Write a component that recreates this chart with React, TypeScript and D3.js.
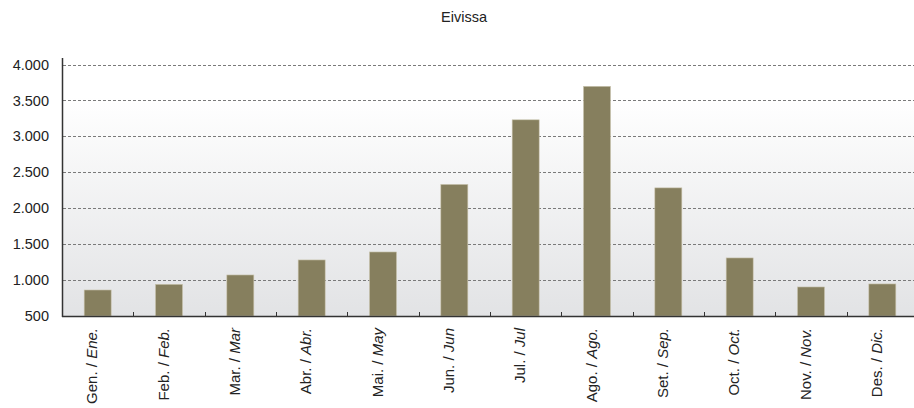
import React from "react";
import * as d3 from "d3";

const title = "Eivissa";
const monthsCa = ["Gen.", "Feb.", "Mar.", "Abr.", "Mai.", "Jun.", "Jul.", "Ago.", "Set.", "Oct.", "Nov.", "Des."];
const monthsEs = ["Ene.", "Feb.", "Mar", "Abr.", "May", "Jun", "Jul", "Ago.", "Sep.", "Oct.", "Nov.", "Dic."];
const values = [862, 941, 1071, 1280, 1391, 2331, 3230, 3696, 2283, 1308, 904, 946];
const yTicks = [500, 1000, 1500, 2000, 2500, 3000, 3500, 4000];

const W = 914;
const H = 408;
const left = 62;
const right = 918;
const top = 58;
const bottom = 316;

export default function App() {
  const x = d3.scaleBand<number>().domain(d3.range(12)).range([left, right]).paddingInner(0).paddingOuter(0);
  const y = d3.scaleLinear().domain([500, 4000]).range([bottom, 64.5]);
  const fmt = (v: number) => d3.format(",")(v).replace(/,/g, ".");
  const barW = 27;
  const font = "'Liberation Sans', Arial, Helvetica, sans-serif";

  return (
    <svg width={W} height={H} style={{ position: "absolute", left: 0, top: 0 }} fontFamily={font}>
      <defs>
        <linearGradient id="bg" x1="0" y1="0" x2="0" y2="1">
          <stop offset="0" stopColor="#ffffff" />
          <stop offset="0.15" stopColor="#ffffff" />
          <stop offset="1" stopColor="#e2e3e5" />
        </linearGradient>
      </defs>
      <rect x={0} y={0} width={W} height={H} fill="#fff" />
      <text x={464} y={22} textAnchor="middle" fontSize={14.5} fill="#222">{title}</text>
      <rect x={left} y={top} width={right - left} height={bottom - top} fill="url(#bg)" />
      {yTicks.filter((t) => t > 500).map((t) => (
        <line key={t} x1={left + 1} x2={W} y1={Math.round(y(t)) + 0.5} y2={Math.round(y(t)) + 0.5}
          stroke="#7a7a7a" strokeWidth={1} strokeDasharray="3,2" />
      ))}
      {yTicks.map((t) => (
        <text key={t} x={49} y={y(t)} dy="0.35em" textAnchor="end" fontSize={14.5} fill="#222">{fmt(t)}</text>
      ))}
      {values.map((v, i) => {
        const cx = (x(i) as number) + x.bandwidth() / 2;
        return (
          <rect key={i} x={cx - barW / 2} y={y(v)} width={barW} height={bottom - y(v)}
            fill="#867f5e" stroke="#c9c4ad" strokeWidth={0.6} />
        );
      })}
      {d3.range(1, 12).map((i) => {
        const xx = Math.round(x(i) as number) + 0.5;
        return <line key={i} x1={xx} x2={xx} y1={bottom} y2={bottom - 4} stroke="#333" strokeWidth={1} />;
      })}
      <line x1={left} x2={W} y1={bottom + 0.5} y2={bottom + 0.5} stroke="#333" strokeWidth={1.5} />
      <line x1={left + 0.5} x2={left + 0.5} y1={top} y2={bottom + 1} stroke="#333" strokeWidth={1.5} />
      {values.map((_, i) => {
        const cx = (x(i) as number) + x.bandwidth() / 2 - 5.5;
        return (
          <text key={i} transform={`translate(${cx},328) rotate(-90)`} textAnchor="end" dy="0.35em" fontSize={15} fill="#222">
            {monthsCa[i]} / <tspan fontStyle="italic">{monthsEs[i]}</tspan>
          </text>
        );
      })}
    </svg>
  );
}
